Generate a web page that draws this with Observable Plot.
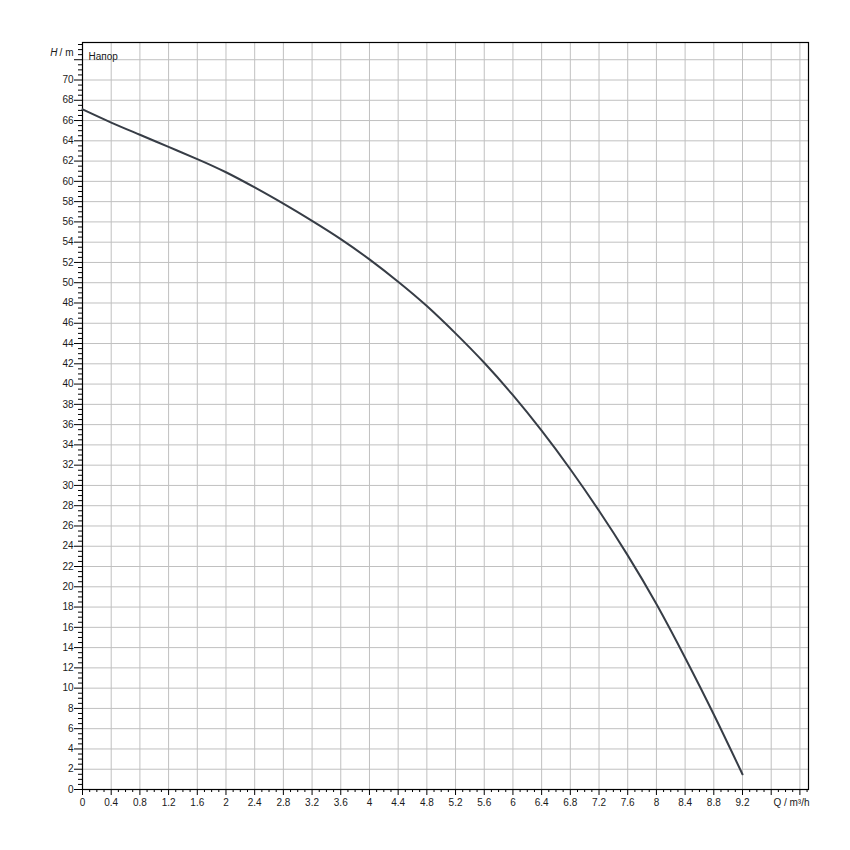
<!DOCTYPE html>
<html>
<head>
<meta charset="utf-8">
<script src="https://cdn.jsdelivr.net/npm/d3@7"></script>
<script src="https://cdn.jsdelivr.net/npm/@observablehq/plot@0.6"></script>
<style>
  html, body { margin: 0; padding: 0; background: #fff; }
  #chart svg { display: block; }
</style>
</head>
<body>
<div id="chart"></div>
<script>
// Pump curve: flow Q (m³/h) vs head H (m)
const qValues = [0, 0.4, 0.8, 1.2, 1.6, 2.0, 2.4, 2.8, 3.2, 3.6, 4.0, 4.4, 4.8, 5.2, 5.6, 6.0, 6.4, 6.8, 7.2, 7.6, 8.0, 8.4, 8.8, 9.2];
const hValues = [67.1, 65.8, 64.6, 63.4, 62.2, 60.9, 59.4, 57.8, 56.1, 54.3, 52.3, 50.1, 47.7, 45.0, 42.1, 38.9, 35.4, 31.6, 27.5, 23.1, 18.3, 13.0, 7.4, 1.5];

const xLabelTicks = [0, 0.4, 0.8, 1.2, 1.6, 2, 2.4, 2.8, 3.2, 3.6, 4, 4.4, 4.8, 5.2, 5.6, 6, 6.4, 6.8, 7.2, 7.6, 8, 8.4, 8.8, 9.2];
const xExtraTicks = [9.6, 10];
const yLabelTicks = [0, 2, 4, 6, 8, 10, 12, 14, 16, 18, 20, 22, 24, 26, 28, 30, 32, 34, 36, 38, 40, 42, 44, 46, 48, 50, 52, 54, 56, 58, 60, 62, 64, 66, 68, 70];
const yExtraTicks = [72];
const xMinorTicks = d3.range(0, 102).map(i => i / 10).filter(v => Math.round(v * 10) % 4 !== 0);
const yMinorTicks = d3.range(0, 148).map(i => i / 2).filter(v => v % 2 !== 0);

const xTitle = "Q / m³/h";
const yTitleVar = "H";
const yTitleUnit = " / m";
const curveName = "Напор";

const data = qValues.map((q, i) => ({q, h: hValues[i]}));
const fmt = d => String(+d.toFixed(1));
const font = "Liberation Sans, Arial, sans-serif";
const txt = "#1a1a1a";

const chart = Plot.plot({
  width: 850,
  height: 850,
  marginLeft: 82,
  marginRight: 42,
  marginTop: 42,
  marginBottom: 61,
  style: {fontFamily: font, fontSize: "10px", background: "#fff", color: txt},
  x: {domain: [0, 10.12], axis: null},
  y: {domain: [0, 73.7], axis: null},
  marks: [
    Plot.gridX([...xLabelTicks, ...xExtraTicks], {stroke: "#c0c0c0", strokeOpacity: 1, strokeWidth: 1}),
    Plot.gridY([...yLabelTicks, ...yExtraTicks], {stroke: "#c0c0c0", strokeOpacity: 1, strokeWidth: 1}),
    Plot.axisX({ticks: xLabelTicks, label: null, tickSize: 6, tickPadding: 3, tickFormat: fmt, stroke: "#000", fill: txt, fontSize: 10}),
    Plot.axisX({ticks: xExtraTicks, label: null, tickSize: 6, tickFormat: () => "", stroke: "#000"}),
    Plot.axisX({ticks: xMinorTicks, label: null, tickSize: 3, tickFormat: () => "", stroke: "#000"}),
    Plot.axisY({ticks: yLabelTicks, label: null, tickSize: 8, tickPadding: 1, tickFormat: fmt, stroke: "#000", fill: txt, fontSize: 10}),
    Plot.axisY({ticks: yExtraTicks, label: null, tickSize: 8, tickFormat: () => "", stroke: "#000"}),
    Plot.axisY({ticks: yMinorTicks, label: null, tickSize: 4, tickFormat: () => "", stroke: "#000"}),
    Plot.frame({stroke: "#000", strokeWidth: 1.2}),
    Plot.line(data, {x: "q", y: "h", stroke: "#373d46", strokeWidth: 2, curve: "natural"}),
    Plot.text([xTitle], {frameAnchor: "bottom-right", textAnchor: "end", lineAnchor: "top", dy: 9, dx: 1, fill: txt, fontSize: 10}),
    Plot.text([yTitleVar], {frameAnchor: "top-left", textAnchor: "end", dx: -25, dy: 6.5, fill: txt, fontSize: 10, fontStyle: "italic"}),
    Plot.text([yTitleUnit], {frameAnchor: "top-left", textAnchor: "end", dx: -9, dy: 6.5, fill: txt, fontSize: 10}),
    Plot.text([curveName], {frameAnchor: "top-left", textAnchor: "start", dx: 6, dy: 10, fill: txt, fontSize: 10})
  ]
});
document.getElementById("chart").appendChild(chart);
</script>
</body>
</html>
